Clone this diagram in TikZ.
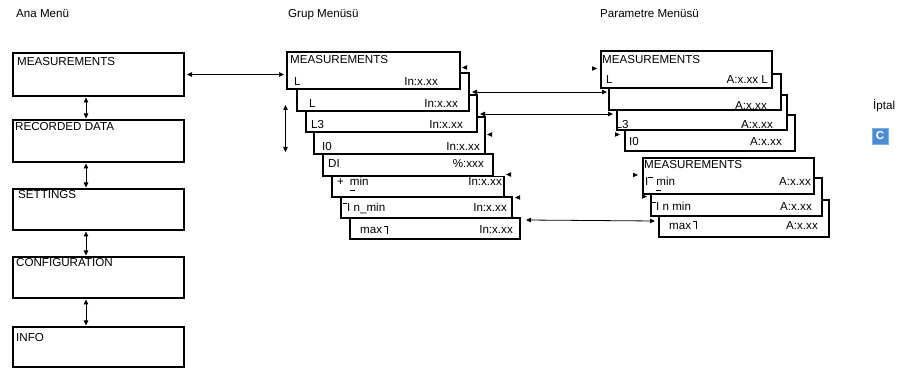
\documentclass[tikz,border=0pt]{standalone}
\usepackage{fontspec}
\setmainfont{Liberation Sans}
\usetikzlibrary{arrows.meta}

\definecolor{keyblue}{RGB}{74,141,214}
\newcommand\fs{\fontsize{11.6}{13}\selectfont}

% menu frames and texts
\tikzset{
  menubox/.style={draw=black, line width=1.8pt, fill=white, inner sep=0pt, outer sep=0pt, anchor=north west},
  lbl/.style={inner sep=0pt, anchor=base west, font=\fs},
  val/.style={inner sep=0pt, anchor=base east, font=\fs},
  link/.style={line width=0.8pt, {Triangle[length=5pt,width=4.5pt]}-{Triangle[length=5pt,width=4.5pt]}},
  keybtn/.style={fill=keyblue, draw=keyblue!70!white, line width=0.6pt, minimum size=16pt, inner sep=0pt,
                 text=white, font=\bfseries\fs}
}

% frame from its corners: name, x1, y1, x2, y2
\newcommand\menupanel[5]{\node[menubox, minimum width={#4-#2}, minimum height={#5-#3}] (#1) at (#2,#3) {};}
\newcommand\txtl[4]{\node[lbl] (#1) at (#2,#3) {#4};}
\newcommand\txtr[4]{\node[val] (#1) at (#2,#3) {#4};}
% small arrow markers
\newcommand\markl[2]{\fill (#1,#2) -- ++(5,-2.3) -- ++(0,4.6) -- cycle;}
\newcommand\markr[2]{\fill (#1,#2) -- ++(-5,-2.3) -- ++(0,4.6) -- cycle;}
% display glyphs
\newcommand\lowdash[1]{\makebox[0pt][l]{\rule[-5pt]{5pt}{0.6pt}}#1}
\newcommand\hibar{\rule[8pt]{4pt}{0.6pt}}
\newcommand\ceilglyph{\hspace{1.5pt}\rule[7.7pt]{3.5pt}{0.7pt}\rule{0.8pt}{8.4pt}}

\begin{document}
\begin{tikzpicture}[x=1pt,y=-1pt]
\useasboundingbox (0,0) rectangle (903,371);

% column headers
\txtl{h1}{16}{17.2}{Ana Menü}
\txtl{h2}{288}{17.2}{Grup Menüsü}
\txtl{h3}{600}{17.2}{Parametre Menüsü}
\txtl{h4}{873}{110}{İptal}
\node[keybtn] (cbtn) at (880,136) {C};

% main menu
\menupanel{m1}{13}{53}{184}{96}
\menupanel{m2}{13}{120}{184}{162}
\menupanel{m3}{13}{189}{184}{230}
\menupanel{m4}{13}{257}{184}{298}
\menupanel{m5}{13}{327}{184}{367}
\txtl{m1t}{17}{65.3}{MEASUREMENTS}
\txtl{m2t}{15}{130.5}{RECORDED DATA}
\txtl{m3t}{18}{198.3}{SETTINGS}
\txtl{m4t}{16}{267}{CONFIGURATION}
\txtl{m5t}{16}{341.7}{INFO}

\foreach \a/\b in {m1/m2, m2/m3, m3/m4, m4/m5}
  \draw[link] ([xshift=-12.5pt,yshift=-1.5pt]\a.south) -- ([xshift=-12.5pt,yshift=1.5pt]\b.north);

% group menu, back to front
\menupanel{g8}{350}{218}{520}{239}
\txtl{g8l}{360}{234}{max\ceilglyph}
\txtr{g8v}{513}{234}{In:x.xx}
\menupanel{g7}{341}{197}{512}{218}
\txtl{g7l}{343}{212}{\hibar I n\_min}
\txtr{g7v}{507}{212}{In:x.xx}
\menupanel{g6}{332}{176.5}{504}{197}
\txtl{g6l}{337}{186}{+\hspace{6pt}\lowdash{m}in}
\txtr{g6v}{502}{186}{In:x.xx}
\menupanel{g5}{323}{154}{493}{176}
\txtl{g5l}{328}{168}{DI}
\txtr{g5v}{484}{168}{\%:xxx}
\menupanel{g4}{314}{117}{485}{154}
\txtl{g4l}{322}{150.5}{I0}
\txtr{g4v}{480}{150.5}{In:x.xx}
\menupanel{g3}{306}{95}{477}{132}
\txtl{g3l}{311}{129}{L3}
\txtr{g3v}{463}{129}{In:x.xx}
\menupanel{g2}{297}{73}{469}{111}
\txtl{g2l}{309}{107.5}{L}
\txtr{g2v}{458}{107.5}{In:x.xx}
\menupanel{g1}{287}{52}{460}{89}
\txtl{g1t}{290}{63.3}{MEASUREMENTS}
\txtl{g1l}{294}{85.3}{L}
\txtr{g1v}{438}{85.3}{In:x.xx}

\markl{462}{67.5}
\markl{487}{134.5}
\markl{506}{174.5}
\markl{515}{197.5}

% parameter menu, first stack
\menupanel{p4}{625}{115}{795}{151}
\txtl{p4l}{629}{146}{I0}
\txtr{p4v}{782}{146}{A:x.xx}
\menupanel{p3}{617}{95}{787}{130}
\txtl{p3l}{615.5}{129}{L3}
\txtr{p3v}{773}{129}{A:x.xx}
\menupanel{p2}{609}{74}{781}{110}
\txtr{p2v}{767}{110}{A:x.xx}
\menupanel{p1}{601}{51}{772}{88}
\txtl{p1t}{602}{63.5}{MEASUREMENTS}
\txtl{p1l}{606}{83.5}{L}
\txtr{p1v}{768}{83.5}{A:x.xx L}

% parameter menu, second stack
\menupanel{p7}{659}{200}{829}{237}
\txtl{p7l}{669}{229.5}{max\ceilglyph}
\txtr{p7v}{818}{229.5}{A:x.xx}
\menupanel{p6}{651}{178}{822}{216}
\txtl{p6l}{652}{211}{\hibar I n \lowdash{m}in}
\txtr{p6v}{812}{211}{A:x.xx}
\menupanel{p5}{643}{158}{814}{194}
\txtl{p5t}{644}{169}{MEASUREMENTS}
\txtl{p5l}{645}{185.5}{I\rule[7.7pt]{5pt}{0.6pt}\hspace{3pt}\lowdash{m}in}
\txtr{p5v}{811}{185.5}{A:x.xx}

\markr{597}{68.5}
\markr{620}{134.5}
\markr{638}{175}
\markr{647}{196.5}

% links between the menus
\draw[link] ([xshift=3pt]m1.east) -- ([xshift=-3pt]m1.east -| g1.west);
\coordinate (up) at (285.5,105);
\coordinate (down) at (285.5,152);
\draw[link] (up) -- (down);
\draw[link] ([xshift=3pt,yshift=-19pt]g2.north east) -- ([xshift=-2pt,yshift=-18pt]p2.north west);
\draw[link] ([xshift=3pt,yshift=-19pt]g3.north east) -- ([xshift=-4pt,yshift=-19pt]p3.north west);
\draw[link] ([xshift=6pt,yshift=-2pt]g8.north east) -- ([xshift=-4pt,yshift=-21pt]p7.north west);

\end{tikzpicture}
\end{document}
